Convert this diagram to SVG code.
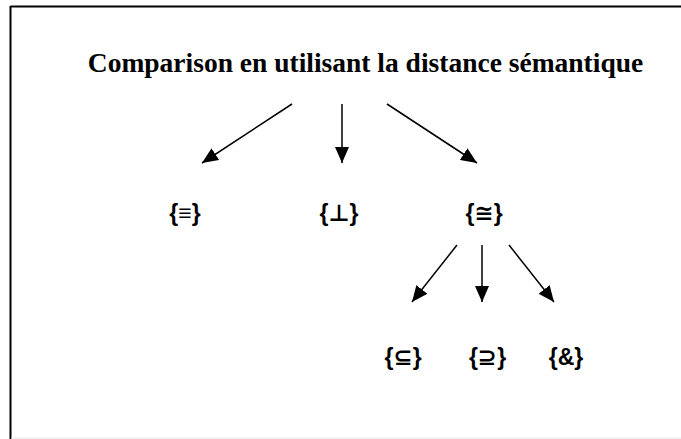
<svg xmlns="http://www.w3.org/2000/svg" width="681" height="439" viewBox="0 0 681 439">
<style>
.title{font-family:"Liberation Serif","Times New Roman",serif;font-weight:bold;font-size:27.5px;fill:#000}
.lbl{font-family:"Liberation Sans","DejaVu Sans",Arial,sans-serif;font-weight:bold;font-size:23px;fill:#000}
.edge{stroke:#000;stroke-width:1.5;fill:none;marker-end:url(#ah)}
</style>
<defs>
<marker id="ah" viewBox="0 0 16 14" refX="16" refY="7" markerWidth="16" markerHeight="14" markerUnits="userSpaceOnUse" orient="auto">
<path d="M0,0 L16,7 L0,14 z" fill="#000"/>
</marker>
</defs>
<rect x="0" y="0" width="681" height="439" fill="#fff"/>
<g id="frame">
<line x1="10.5" y1="6.5" x2="681" y2="6.5" stroke="#000" stroke-width="2"/>
<line x1="10.5" y1="6" x2="10.5" y2="439" stroke="#000" stroke-width="2"/>
<line x1="11" y1="438" x2="681" y2="438" stroke="#e6e6e6" stroke-width="1"/>
</g>
<g id="title"><text class="title" x="365.5" y="71.5" text-anchor="middle">Comparison en utilisant la distance sémantique</text></g>
<g id="n-equiv"><text class="lbl" x="185" y="221" text-anchor="middle">{≡}</text></g>
<g id="n-perp"><text class="lbl" x="339" y="221" text-anchor="middle">{⊥}</text></g>
<g id="n-cong"><text class="lbl" x="484" y="221" text-anchor="middle">{≅}</text></g>
<g id="n-sub"><text class="lbl" x="403" y="364.5" text-anchor="middle">{⊆}</text></g>
<g id="n-sup"><text class="lbl" x="487.5" y="364.5" text-anchor="middle">{⊇}</text></g>
<g id="n-amp"><text class="lbl" x="566" y="364.5" text-anchor="middle">{&amp;}</text></g>
<g id="connectors">
<line class="edge" x1="292" y1="104" x2="202" y2="163"/>
<line class="edge" x1="342" y1="104" x2="342" y2="163"/>
<line class="edge" x1="387" y1="104" x2="477" y2="163"/>
<line class="edge" x1="457" y1="245" x2="412" y2="302"/>
<line class="edge" x1="482" y1="245" x2="482" y2="302"/>
<line class="edge" x1="509" y1="245" x2="554" y2="302"/>
</g>
</svg>
